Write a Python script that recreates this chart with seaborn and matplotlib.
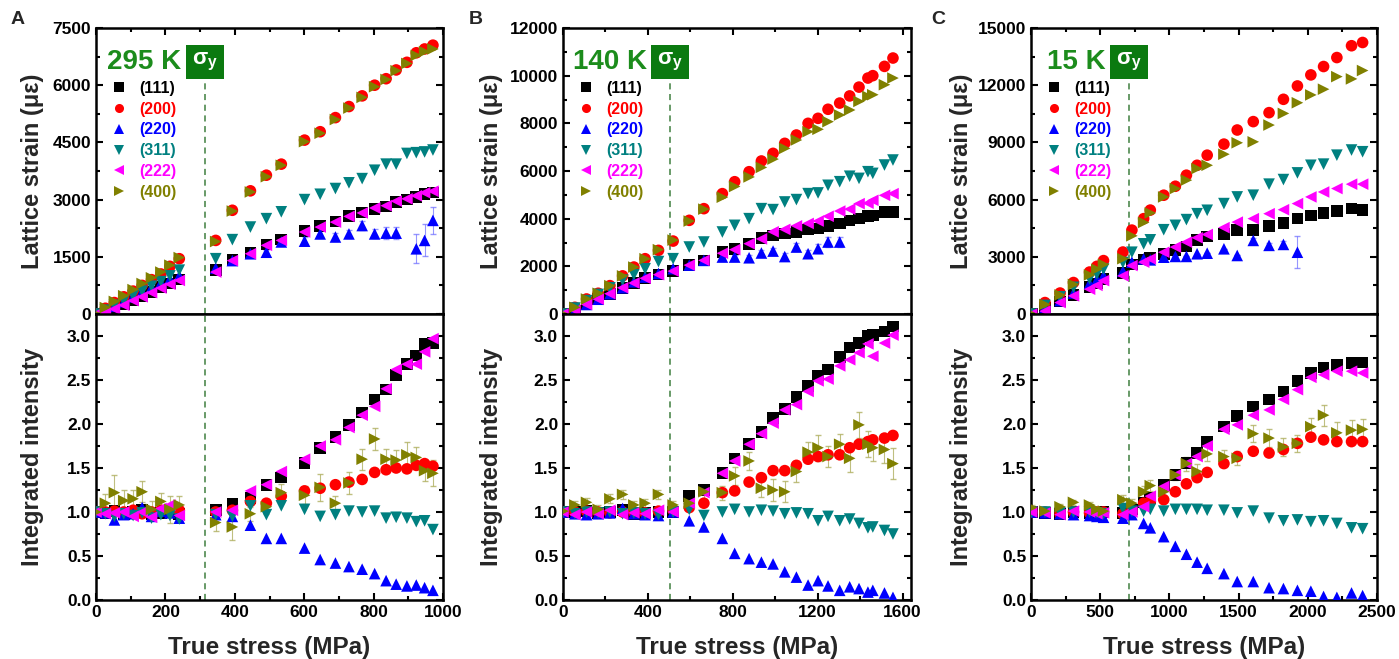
import numpy as np
import pandas as pd
import matplotlib
matplotlib.use("Agg")
import matplotlib.pyplot as plt
import matplotlib.transforms as mtransforms
from matplotlib.ticker import MultipleLocator
import seaborn as sns

nan = np.nan
planes = ["(111)", "(200)", "(220)", "(311)", "(222)", "(400)"]
plane_colors = ["#000000", "#ff0000", "#0000ff", "#008080", "#ff00ff", "#808000"]
plane_markers = ["s", "o", "^", "v", "<", ">"]

# ---------------- 295 K ----------------
x_295 = [0, 27, 53, 80, 107, 133, 160, 187, 213, 240,
         345, 393, 445, 491, 534, 601, 646, 690, 729, 767, 803, 836, 865, 896, 923, 947, 971]
strain_295_111 = [0, 50, 150, 250, 370, 480, 580, 700, 800, 900,
                  1150, 1420, 1600, 1820, 1950, 2170, 2300, 2430, 2570, 2660, 2760, 2820, 2940, 3000, 3070, 3150, 3190]
strain_295_200 = [0, 150, 300, 450, 600, 750, 900, 1050, 1250, 1450,
                  1930, 2720, 3230, 3640, 3930, 4560, 4780, 5150, 5440, 5720, 6000, 6170, 6400, 6600, 6850, 6950, 7050]
strain_295_220 = [0, 80, 200, 320, 450, 580, 700, 820, 920, 1000,
                  1200, 1400, 1580, 1620, 1890, 1910, 2100, 2020, 2100, 2320, 2100, 2120, 2120, nan, 1710, 1930, 2455]
strain_295_311 = [0, 100, 230, 350, 480, 600, 730, 850, 1000, 1150,
                  1450, 1950, 2280, 2500, 2680, 3000, 3140, 3290, 3440, 3550, 3770, 3930, 3930, 4210, 4230, 4250, 4300]
strain_295_222 = [0, 30, 130, 230, 350, 450, 560, 680, 780, 880,
                  1100, 1400, 1580, 1800, 1930, 2150, 2280, 2410, 2560, 2650, 2780, 2840, 2960, 3020, 3100, 3180, 3220]
strain_295_400 = [0, 170, 330, 480, 640, 800, 950, 1100, 1280, 1480,
                  1900, 2700, 3200, 3600, 3900, 4520, 4740, 5100, 5400, 5680, 5960, 6150, 6380, 6570, 6780, 6880, 6950]
strain_295_220_err = [0, 0, 0, 0, 0, 0, 0, 0, 0, 0,
                      60, 60, 60, 60, 80, 100, 100, 100, 100, 120, 120, 150, 150, nan, 380, 420, 350]

inten_295_111 = [1.00, 0.99, 1.01, 0.97, 1.00, 1.02, 0.97, 0.99, 1.00, 0.98,
                 1.02, 1.09, 1.16, 1.31, 1.39, 1.56, 1.73, 1.85, 1.99, 2.13, 2.28, 2.39, 2.56, 2.68, 2.78, 2.91, 2.92]
inten_295_200 = [1.00, 1.00, 1.01, 1.00, 1.02, 0.98, 1.00, 1.02, 1.03, 1.02,
                 1.00, 1.02, 1.12, 1.10, 1.18, 1.24, 1.27, 1.31, 1.34, 1.37, 1.45, 1.48, 1.50, 1.49, 1.53, 1.55, 1.52]
inten_295_220 = [1.00, 0.99, 0.91, 0.97, 0.98, 1.05, 0.95, 1.01, 0.99, 0.93,
                 0.97, 0.95, 0.85, 0.70, 0.70, 0.59, 0.46, 0.42, 0.38, 0.35, 0.30, 0.22, 0.18, 0.16, 0.17, 0.14, 0.11]
inten_295_311 = [1.00, 0.98, 0.95, 0.98, 0.96, 0.99, 0.93, 0.97, 0.96, 0.92,
                 0.97, 0.95, 1.07, 0.97, 1.07, 1.03, 0.95, 0.97, 1.01, 1.00, 1.01, 0.93, 0.94, 0.93, 0.89, 0.90, 0.80]
inten_295_222 = [1.00, 0.98, 0.99, 1.00, 0.95, 1.00, 0.94, 1.04, 1.08, 0.96,
                 1.00, 1.02, 1.24, 1.31, 1.46, 1.60, 1.75, 1.82, 1.96, 2.10, 2.20, 2.40, 2.62, 2.68, 2.68, 2.82, 2.97]
inten_295_400 = [1.00, 1.10, 1.22, 1.13, 1.15, 1.23, 1.03, 1.12, 1.03, 1.08,
                 0.88, 0.83, 0.98, 1.06, 1.22, 1.19, 1.28, 1.10, 1.33, 1.60, 1.83, 1.60, 1.59, 1.65, 1.62, 1.47, 1.44]
inten_295_400_err = [0.05, 0.10, 0.20, 0.12, 0.10, 0.12, 0.10, 0.10, 0.15, 0.10,
                     0.10, 0.15, 0.08, 0.08, 0.10, 0.10, 0.15, 0.08, 0.12, 0.12, 0.12, 0.12, 0.12, 0.15, 0.12, 0.12, 0.15]

# ---------------- 140 K ----------------
x_140 = [0, 56, 111, 166, 221, 281, 334, 387, 450, 519, 595, 664, 751, 809, 877,
         935, 990, 1045, 1100, 1155, 1202, 1249, 1304, 1351, 1395, 1437, 1460, 1515, 1555]
strain_140_111 = [0, 150, 400, 620, 850, 1100, 1300, 1500, 1650, 1800, 2050, 2250, 2600, 2740, 2950,
                  3200, 3300, 3370, 3440, 3540, 3580, 3680, 3790, 3930, 4000, 4100, 4140, 4280, 4280]
strain_140_200 = [0, 280, 630, 870, 1190, 1600, 1970, 2320, 2670, 3060, 3930, 4420, 5050, 5550, 5970,
                  6420, 6740, 7160, 7510, 8000, 8210, 8590, 8850, 9150, 9520, 9900, 10000, 10390, 10740]
strain_140_220 = [0, 150, 400, 620, 850, 1100, 1350, 1550, 1700, 1900, 2050, 2250, 2390, 2390, 2360,
                  2560, 2640, 2410, 2810, 2530, 2740, 3020, 3020, nan, nan, nan, nan, nan, nan]
strain_140_311 = [0, 250, 560, 820, 1100, 1420, 1650, 1900, 2200, 2320, 2810, 3020, 3440, 3720, 4000,
                  4420, 4380, 4700, 4800, 5050, 5080, 5400, 5550, 5780, 5690, 5970, 5900, 6250, 6460]
strain_140_222 = [0, 150, 400, 620, 850, 1100, 1300, 1500, 1650, 1800, 2050, 2250, 2550, 2700, 2950,
                  3150, 3450, 3550, 3700, 3800, 3900, 4100, 4320, 4400, 4630, 4650, 4770, 4980, 5050]
strain_140_400 = [0, 280, 630, 870, 1190, 1600, 1970, 2320, 2700, 3100, 3900, 4400, 4900, 5350, 5750,
                  6150, 6500, 6950, 7300, 7650, 7750, 8070, 8350, 8560, 8920, 9130, 9200, 9620, 9900]
strain_140_220_err = [0, 0, 0, 0, 0, 0, 0, 0, 0, 0, 0, 0, 100, 100, 100,
                      120, 120, 150, 150, 150, 180, 200, 200, nan, nan, nan, nan, nan, nan]

inten_140_111 = [1.00, 1.00, 1.01, 0.99, 1.00, 1.02, 0.98, 0.99, 1.00, 1.00, 1.18, 1.25, 1.44, 1.61, 1.77,
                 1.91, 2.07, 2.17, 2.31, 2.43, 2.55, 2.62, 2.76, 2.87, 2.92, 3.00, 3.01, 3.05, 3.11]
inten_140_200 = [1.00, 1.00, 1.01, 1.00, 0.99, 1.00, 1.00, 0.99, 1.01, 1.02, 1.05, 1.10, 1.22, 1.24, 1.34,
                 1.39, 1.47, 1.47, 1.53, 1.60, 1.63, 1.65, 1.65, 1.73, 1.77, 1.80, 1.82, 1.84, 1.87]
inten_140_220 = [1.00, 0.98, 0.97, 0.98, 0.99, 1.04, 0.98, 0.97, 0.96, 1.00, 0.90, 0.83, 0.70, 0.53, 0.47,
                 0.43, 0.41, 0.32, 0.26, 0.17, 0.22, 0.16, 0.11, 0.15, 0.13, 0.09, 0.11, 0.08, 0.03]
inten_140_311 = [1.00, 0.98, 1.00, 0.99, 1.00, 0.98, 0.99, 0.98, 0.97, 1.00, 1.03, 0.96, 1.00, 1.03, 1.00,
                 1.02, 1.01, 0.98, 0.99, 0.98, 0.90, 0.95, 0.90, 0.92, 0.87, 0.82, 0.83, 0.79, 0.75]
inten_140_222 = [1.00, 0.97, 1.00, 0.98, 1.02, 0.97, 0.99, 0.98, 1.02, 1.00, 1.10, 1.22, 1.44, 1.58, 1.77,
                 1.89, 2.01, 2.16, 2.22, 2.37, 2.49, 2.51, 2.66, 2.73, 2.81, 2.91, 2.77, 2.92, 3.01]
inten_140_400 = [1.01, 1.08, 1.11, 1.03, 1.15, 1.20, 1.08, 1.10, 1.20, 1.08, 1.10, 1.23, 1.22, 1.41, 1.58,
                 1.27, 1.25, 1.23, 1.46, 1.68, 1.73, 1.63, 1.77, 1.61, 1.99, 1.77, 1.73, 1.71, 1.55]
inten_140_400_err = [0.03, 0.05, 0.05, 0.05, 0.05, 0.05, 0.05, 0.05, 0.05, 0.05, 0.06, 0.08, 0.08, 0.10, 0.10,
                     0.10, 0.12, 0.12, 0.12, 0.12, 0.15, 0.12, 0.12, 0.15, 0.15, 0.15, 0.15, 0.15, 0.18]

# ---------------- 15 K ----------------
x_15 = [5, 101, 210, 307, 423, 476, 524, 664, 729, 814, 862, 959, 1043, 1123,
        1200, 1273, 1394, 1490, 1606, 1720, 1824, 1925, 2022, 2114, 2210, 2316, 2396]
strain_15_111 = [0, 300, 650, 1000, 1400, 1600, 1850, 2150, 2600, 2850, 2950, 3160, 3370, 3540,
                 3890, 4070, 4210, 4390, 4420, 4600, 4770, 5000, 5170, 5300, 5400, 5530, 5470]
strain_15_200 = [0, 600, 1100, 1650, 2200, 2500, 2800, 3250, 4400, 5000, 5450, 6230, 6700, 7280,
                 7800, 8330, 8910, 9650, 10090, 10560, 11260, 11960, 12540, 12980, 13450, 14070, 14240]
strain_15_220 = [0, 350, 700, 1100, 1600, 1800, 2000, 2250, 2720, 2890, 2840, 2980, 3020, 3020,
                 3160, 3190, 3420, 3070, 3860, 3600, 3650, 3240, nan, nan, nan, nan, nan]
strain_15_311 = [0, 450, 900, 1400, 1850, 2100, 2350, 2700, 3240, 3680, 3890, 4420, 4650, 4950,
                 5260, 5440, 5790, 6140, 6230, 6810, 7050, 7400, 7800, 7860, 8330, 8600, 8510]
strain_15_222 = [0, 150, 600, 950, 1300, 1500, 1750, 2000, 2540, 2720, 2890, 3240, 3510, 3770,
                 4000, 4170, 4530, 4820, 5000, 5260, 5470, 5790, 6140, 6400, 6580, 6810, 6810]
strain_15_400 = [0, 500, 1000, 1550, 2050, 2350, 2600, 2900, 4100, 4800, 5300, 6140, 6580, 7020,
                 7630, 7800, 8380, 8980, 9030, 9910, 10520, 11080, 11490, 11790, 12450, 12330, 12770]
strain_15_220_err = [0, 0, 0, 0, 0, 0, 0, 0, 0, 0, 0, 0, 0, 0,
                     0, 0, 0, 0, 150, 150, 200, 850, nan, nan, nan, nan, nan]

inten_15_111 = [1.00, 0.99, 0.98, 1.00, 0.99, 0.98, 1.00, 0.99, 1.03, 1.11, 1.16, 1.31, 1.42, 1.56,
                1.67, 1.80, 1.97, 2.09, 2.20, 2.28, 2.37, 2.49, 2.58, 2.64, 2.67, 2.69, 2.70]
inten_15_200 = [1.00, 1.00, 0.98, 1.00, 0.99, 1.00, 1.00, 0.98, 1.01, 1.10, 1.12, 1.14, 1.23, 1.32,
                1.39, 1.45, 1.55, 1.63, 1.69, 1.67, 1.71, 1.78, 1.85, 1.82, 1.80, 1.80, 1.80]
inten_15_220 = [1.00, 0.99, 0.98, 0.97, 0.96, 0.95, 0.94, 0.93, 0.97, 0.87, 0.82, 0.72, 0.61, 0.52,
                0.43, 0.36, 0.30, 0.21, 0.21, 0.14, 0.13, 0.11, 0.10, 0.04, 0.03, 0.08, 0.05]
inten_15_311 = [1.00, 1.00, 0.99, 1.00, 1.00, 0.99, 0.98, 1.04, 1.01, 1.01, 1.03, 1.01, 1.03, 1.03,
                1.03, 1.02, 1.02, 0.99, 1.01, 0.93, 0.90, 0.91, 0.89, 0.90, 0.87, 0.82, 0.81]
inten_15_222 = [1.00, 0.99, 0.97, 1.01, 1.00, 0.98, 0.99, 0.97, 1.00, 1.06, 1.18, 1.29, 1.42, 1.55,
                1.63, 1.75, 1.94, 1.99, 2.10, 2.16, 2.28, 2.39, 2.53, 2.56, 2.60, 2.60, 2.58]
inten_15_400 = [1.05, 1.01, 1.06, 1.11, 1.08, 1.03, 1.01, 1.14, 1.10, 1.23, 1.30, 1.23, 1.42, 1.55,
                1.46, 1.66, 1.63, 1.61, 1.89, 1.84, 1.74, 1.78, 1.97, 2.10, 1.90, 1.93, 1.94]
inten_15_400_err = [0.03, 0.03, 0.03, 0.03, 0.03, 0.03, 0.03, 0.05, 0.05, 0.06, 0.06, 0.06, 0.06, 0.08,
                    0.08, 0.08, 0.08, 0.08, 0.10, 0.10, 0.10, 0.10, 0.10, 0.12, 0.12, 0.12, 0.12]

temperatures = ["295 K", "140 K", "15 K"]
yield_stress = [314, 505, 710]
panel_letters = ["A", "B", "C"]
x_limits = [1000, 1640, 2500]
x_major = [200, 400, 500]
strain_limits = [7500, 12000, 15000]
strain_major = [1500, 2000, 3000]

# ---------------------------------------------------------------------------
sns.set_theme(style="ticks")
plt.rcParams["font.family"] = ["Liberation Sans", "DejaVu Sans"]
plt.rcParams["font.weight"] = "bold"
plt.rcParams["axes.labelweight"] = "bold"

W, H = 1399, 659
fig = plt.figure(figsize=(W / 100, H / 100), dpi=100)

col_left = [96, 563, 1031]
col_width = [347, 348, 346]
top_y0, mid_y, bot_y1 = 28, 314, 600

green_text = "#1c8c1c"
green_box = "#0b7a10"
green_line = "#3f7f3f"


def make_df(x, series):
    frames = []
    for p, vals in zip(planes, series):
        frames.append(pd.DataFrame({"x": x, "y": vals, "plane": p}))
    df = pd.concat(frames, ignore_index=True)
    return df.dropna()


panels = [
    (x_295, [strain_295_111, strain_295_200, strain_295_220, strain_295_311, strain_295_222, strain_295_400],
     strain_295_220, strain_295_220_err,
     [inten_295_111, inten_295_200, inten_295_220, inten_295_311, inten_295_222, inten_295_400],
     inten_295_400, inten_295_400_err),
    (x_140, [strain_140_111, strain_140_200, strain_140_220, strain_140_311, strain_140_222, strain_140_400],
     strain_140_220, strain_140_220_err,
     [inten_140_111, inten_140_200, inten_140_220, inten_140_311, inten_140_222, inten_140_400],
     inten_140_400, inten_140_400_err),
    (x_15, [strain_15_111, strain_15_200, strain_15_220, strain_15_311, strain_15_222, strain_15_400],
     strain_15_220, strain_15_220_err,
     [inten_15_111, inten_15_200, inten_15_220, inten_15_311, inten_15_222, inten_15_400],
     inten_15_400, inten_15_400_err),
]

palette = dict(zip(planes, plane_colors))
marker_map = dict(zip(planes, plane_markers))

for i, (x, strains, err_y_t, err_t, intens, err_y_b, err_b) in enumerate(panels):
    l = col_left[i] / W
    w = col_width[i] / W
    ax_t = fig.add_axes([l, 1 - mid_y / H, w, (mid_y - top_y0) / H])
    ax_b = fig.add_axes([l, 1 - bot_y1 / H, w, (bot_y1 - mid_y) / H])

    # error bars
    ax_t.errorbar(x, err_y_t, yerr=err_t, fmt="none", ecolor="#6a6aff", elinewidth=0.8,
                  capsize=2, alpha=0.7, zorder=1)
    ax_b.errorbar(x, err_y_b, yerr=err_b, fmt="none", ecolor="#b0b060", elinewidth=0.8,
                  capsize=2, alpha=0.8, zorder=1)

    df_t = make_df(x, strains)
    df_b = make_df(x, intens)
    sns.scatterplot(data=df_t, x="x", y="y", hue="plane", style="plane", hue_order=planes,
                    style_order=planes, palette=palette, markers=marker_map, s=70,
                    linewidth=0, ax=ax_t, legend=True, zorder=3)
    sns.scatterplot(data=df_b, x="x", y="y", hue="plane", style="plane", hue_order=planes,
                    style_order=planes, palette=palette, markers=marker_map, s=70,
                    linewidth=0, ax=ax_b, legend=False, zorder=3)

    # legend
    handles, labels = ax_t.get_legend_handles_labels()
    leg = ax_t.legend(handles, labels, loc="upper left", bbox_to_anchor=(0.042, 0.815),
                      frameon=False, fontsize=11.5, handlelength=1.0, handletextpad=0.8,
                      labelspacing=0.36, borderaxespad=0, borderpad=0, markerscale=0.78)
    for txt, c in zip(leg.get_texts(), plane_colors):
        txt.set_color(c)
        txt.set_fontweight("bold")

    # axes limits & ticks
    ax_t.set_xlim(0, x_limits[i])
    ax_b.set_xlim(0, x_limits[i])
    ax_t.set_ylim(0, strain_limits[i])
    ax_b.set_ylim(0, 3.25)
    for ax in (ax_t, ax_b):
        ax.xaxis.set_major_locator(MultipleLocator(x_major[i]))
        ax.xaxis.set_minor_locator(MultipleLocator(x_major[i] / 2))
        for sp in ax.spines.values():
            sp.set_linewidth(1.8)
            sp.set_color("black")
        ax.tick_params(which="both", direction="in", right=True, width=1.5, labelsize=12.5,
                       colors="black")
        ax.tick_params(which="major", length=5)
        ax.tick_params(which="minor", length=3)
        for t in ax.get_xticklabels() + ax.get_yticklabels():
            t.set_fontweight("bold")
    ax_t.yaxis.set_major_locator(MultipleLocator(strain_major[i]))
    ax_t.yaxis.set_minor_locator(MultipleLocator(strain_major[i] / 2))
    ax_b.yaxis.set_major_locator(MultipleLocator(0.5))
    ax_b.yaxis.set_minor_locator(MultipleLocator(0.25))
    ax_b.yaxis.set_major_formatter(matplotlib.ticker.FormatStrFormatter("%.1f"))
    ax_t.tick_params(which="both", top=True, bottom=False, labelbottom=False)
    ax_b.tick_params(which="both", top=False, bottom=True)

    ax_t.set_xlabel("")
    ax_t.set_ylabel("Lattice strain (με)", fontsize=17, fontweight="bold")
    ax_b.set_ylabel("Integrated intensity", fontsize=17, fontweight="bold")
    ax_b.set_xlabel("True stress (MPa)", fontsize=17.5, fontweight="bold")
    lab_x = [-0.15, -0.172, -0.168][i]
    ax_t.yaxis.set_label_coords(lab_x, 0.5)
    ax_b.yaxis.set_label_coords(lab_x, 0.5)
    ax_b.xaxis.set_label_coords(0.5, -0.125)

    # yield line & annotation
    y_box = (mid_y - 62) / (mid_y - top_y0)
    y_line_top = (mid_y - 82) / (mid_y - top_y0)
    ax_t.axvline(yield_stress[i], ymin=0, ymax=y_line_top, color=green_line, ls=(0, (4, 3)),
                 lw=1.1, zorder=2)
    ax_b.axvline(yield_stress[i], color=green_line, ls=(0, (4, 3)), lw=1.1, zorder=2)
    trans = mtransforms.blended_transform_factory(ax_t.transData, ax_t.transAxes)
    ax_t.text(yield_stress[i], y_box, r"$\mathregular{\sigma_y}$", transform=trans, ha="center",
              va="center", color="white", fontsize=16,
              bbox=dict(boxstyle="square,pad=0.28", fc=green_box, ec="none"), zorder=5)
    ax_t.annotate(temperatures[i], xy=(yield_stress[i], y_box), xycoords=trans,
                  xytext=(-17, 0), textcoords="offset points", ha="right", va="center",
                  color=green_text, fontsize=20, fontweight="bold", zorder=5)

    # panel letter
    fig.text([18, 476, 938][i] / W, 1 - 20 / H, panel_letters[i], fontsize=14,
             fontweight="bold", ha="center", va="center")

fig.savefig("out.png", dpi=100)
